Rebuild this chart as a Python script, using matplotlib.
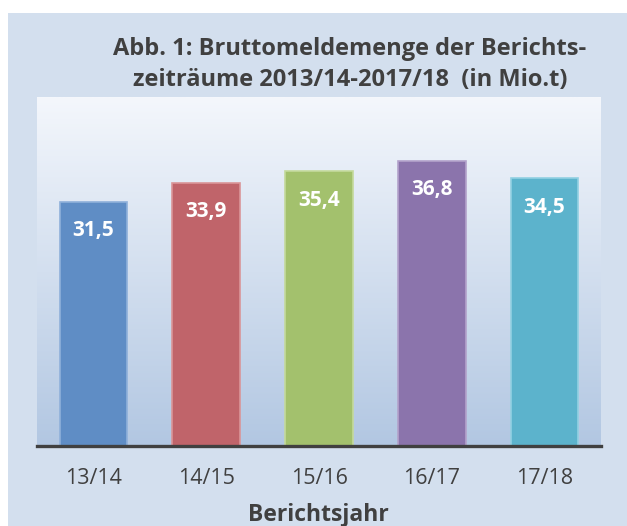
import matplotlib
matplotlib.use("Agg")
import matplotlib.pyplot as plt
import numpy as np
from matplotlib.colors import LinearSegmentedColormap

categories = ["13/14", "14/15", "15/16", "16/17", "17/18"]
values = [31.5, 33.9, 35.4, 36.8, 34.5]
value_labels = ["31,5", "33,9", "35,4", "36,8", "34,5"]
bar_colors = ["#5F8DC5", "#C0646A", "#A3C16D", "#8B74AC", "#5CB3CC"]
edge_colors = ["#8FB0DA", "#DA9598", "#C4DA9C", "#B3A2CB", "#92D0E2"]
title_lines = ["Abb. 1: Bruttomeldemenge der Berichts-",
               "zeiträume 2013/14-2017/18  (in Mio.t)"]
xlabel = "Berichtsjahr"

W, H = 627, 526
plt.rcParams['font.family'] = ['Open Sans', 'DejaVu Sans']
fig = plt.figure(figsize=(W/100, H/100), dpi=100)
fig.patch.set_facecolor("white")
bgax = fig.add_axes([8/W, 0, 1 - 8/W, 1 - 13/H], zorder=-5)
bgax.set_facecolor("#D3DFEE")
bgax.set_xticks([]); bgax.set_yticks([])
for s in bgax.spines.values():
    s.set_visible(False)

left, right, top, bottom = 37, 601, 97, 446
ax = fig.add_axes([left/W, 1 - bottom/H, (right-left)/W, (bottom-top)/H], zorder=1)
ax.set_facecolor("none")
x = np.arange(len(categories))

grad = np.linspace(1, 0, 256).reshape(-1, 1)
cmap = LinearSegmentedColormap.from_list("bg", ["#F4F7FC", "#B2C7E2"])
ax.imshow(grad, aspect="auto", cmap=cmap, extent=[-0.5, len(categories) - 0.5, 0, 45],
          origin="lower", zorder=0)
ax.set_xlim(-0.5, len(categories) - 0.5)
ax.set_ylim(0, 45)

ax.bar(x, values, width=0.6, color=bar_colors, edgecolor=edge_colors, linewidth=1.2, zorder=2)
for xi, v, lab in zip(x, values, value_labels):
    ax.text(xi, v - 3.7, lab, ha="center", va="center", color="white",
            fontsize=15, fontweight="bold", zorder=3)

for s in ["top", "left", "right"]:
    ax.spines[s].set_visible(False)
ax.spines["bottom"].set_color("#404040")
ax.spines["bottom"].set_linewidth(2.4)
ax.spines["bottom"].set_zorder(4)
ax.set_yticks([])
ax.set_xticks(x)
ax.set_xticklabels(categories, fontsize=15.5, color="#404040")
ax.tick_params(axis="x", length=0, pad=16)

fig.text(350/W, 1 - 55/H, title_lines[0], ha="center", va="baseline",
         fontsize=17, fontweight="bold", color="#404040")
fig.text(350/W, 1 - 86/H, title_lines[1], ha="center", va="baseline",
         fontsize=17, fontweight="bold", color="#404040")
fig.text(318/W, 1 - 521/H, xlabel, ha="center", va="baseline",
         fontsize=16.5, fontweight="bold", color="#404040")

fig.savefig("out.png", dpi=100)
